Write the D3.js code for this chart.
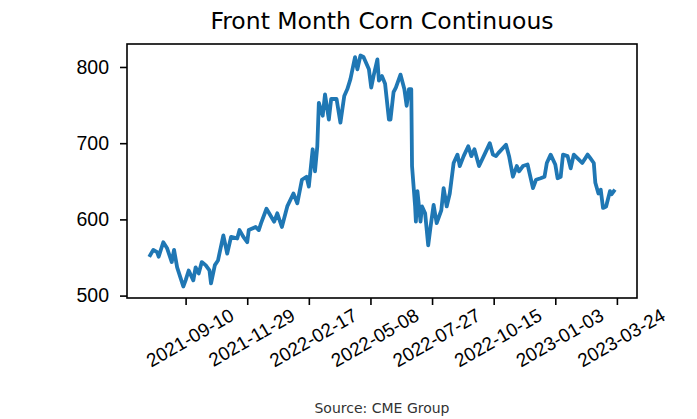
<!DOCTYPE html>
<html>
<head>
<meta charset="utf-8">
<script src="https://cdn.jsdelivr.net/npm/d3@7"></script>
<style>
  body { margin: 0; background: #fff; }
  svg { display: block; font-family: "DejaVu Sans", sans-serif; }
</style>
</head>
<body>
<svg id="chart" width="697" height="419"></svg>
<script>
// front month corn
const dates = [
  "2021-07-26","2021-07-30","2021-08-04","2021-08-06","2021-08-12","2021-08-17","2021-08-23","2021-08-26",
  "2021-08-30","2021-09-07","2021-09-10","2021-09-14","2021-09-20","2021-09-23","2021-09-27","2021-10-01",
  "2021-10-06","2021-10-11","2021-10-13","2021-10-18","2021-10-22","2021-10-29","2021-11-03","2021-11-08",
  "2021-11-16","2021-11-19","2021-11-24","2021-11-29","2021-12-01","2021-12-10","2021-12-14","2021-12-17",
  "2021-12-24","2022-01-03","2022-01-07","2022-01-13","2022-01-20","2022-01-28","2022-02-02","2022-02-08",
  "2022-02-14","2022-02-17","2022-02-22","2022-02-25","2022-02-28","2022-03-02","2022-03-07","2022-03-10",
  "2022-03-15","2022-03-18","2022-03-25","2022-03-30","2022-04-04","2022-04-08","2022-04-12","2022-04-18",
  "2022-04-21","2022-04-25","2022-04-29","2022-05-06","2022-05-09","2022-05-12","2022-05-17","2022-05-19",
  "2022-05-23","2022-05-27","2022-06-01","2022-06-03","2022-06-07","2022-06-10","2022-06-16","2022-06-21",
  "2022-06-24","2022-06-27","2022-06-30","2022-07-01","2022-07-05","2022-07-06","2022-07-08","2022-07-12",
  "2022-07-14","2022-07-18","2022-07-22","2022-07-25","2022-07-29","2022-08-02","2022-08-08","2022-08-11",
  "2022-08-15","2022-08-19","2022-08-24","2022-08-29","2022-09-01","2022-09-06","2022-09-12","2022-09-16",
  "2022-09-20","2022-09-26","2022-10-03","2022-10-10","2022-10-14","2022-10-18","2022-10-21","2022-10-31",
  "2022-11-04","2022-11-09","2022-11-14","2022-11-17","2022-11-22","2022-11-28","2022-12-05","2022-12-09",
  "2022-12-15","2022-12-20","2022-12-23","2022-12-28","2023-01-03","2023-01-06","2023-01-10","2023-01-13",
  "2023-01-19","2023-01-23","2023-01-27","2023-02-03","2023-02-07","2023-02-14","2023-02-17","2023-02-22",
  "2023-02-24","2023-02-28","2023-03-03","2023-03-06","2023-03-10","2023-03-15","2023-03-17","2023-03-20"
]
const prices = [
  553, 560, 557, 551, 570, 562, 544, 560,
  537, 512, 520, 533, 520, 537, 529, 544,
  540, 533, 516, 540, 546, 579, 555, 577,
  575, 586, 577, 570, 586, 590, 586, 595,
  614, 597, 608, 590, 617, 634, 621, 652,
  656, 643, 692, 663, 696, 753, 736, 764,
  731, 758, 758, 727, 762, 771, 784, 813,
  797, 815, 813, 797, 773, 788, 810, 782,
  788, 778, 731, 731, 767, 773, 790, 771,
  749, 771, 771, 670, 617, 597, 637, 597,
  617, 608, 566, 590, 619, 595, 612, 641,
  617, 634, 674, 685, 670, 683, 696, 683,
  692, 670, 685, 700, 685, 683, 687, 698,
  683, 656, 670, 663, 670, 672, 641, 652,
  654, 656, 674, 685, 672, 654, 656, 685,
  683, 667, 685, 678, 674, 685, 681, 674,
  648, 634, 639, 615, 617, 637, 633, 637
]
const tickDates = ["2021-09-10","2021-11-29","2022-02-17","2022-05-08","2022-07-27","2022-10-15","2023-01-03","2023-03-24"]
const yTicks = [500, 600, 700, 800]

const title = "Front Month Corn Continuous"
const source = "Source: CME Group"

const parse = d3.utcParse("%Y-%m-%d")
const fmt = d3.utcFormat("%Y-%m-%d")
const series = dates.map((d, i) => ({ date: parse(d), value: prices[i] }))

const svg = d3.select("#chart")
const margin = { top: 44, right: 60, bottom: 121, left: 127 }
const W = 697, H = 419
const x0 = margin.left, x1 = W - margin.right
const y0 = H - margin.bottom, y1 = margin.top

// matplotlib style 5% padding on both axes
function padded(ext) {
  const p = (ext[1] - ext[0]) * 0.05
  return [ext[0] - p, ext[1] + p]
}
const xExt = d3.extent(series, d => +d.date)
const x = d3.scaleUtc().domain(padded(xExt).map(t => new Date(t))).range([x0, x1])
const y = d3.scaleLinear().domain(padded(d3.extent(prices))).range([y0, y1])

const line = d3.line()
  .x(d => x(d.date))
  .y(d => y(d.value))

svg.append("path")
  .datum(series)
  .attr("fill", "none")
  .attr("stroke", "#1f77b4")
  .attr("stroke-width", 3.8)
  .attr("stroke-linejoin", "round")
  .attr("stroke-linecap", "square")
  .attr("d", line)

// axes
const xAxis = d3.axisBottom(x)
  .tickValues(tickDates.map(parse))
  .tickFormat(fmt)
  .tickSize(7)
  .tickSizeOuter(0)

const gx = svg.append("g")
  .attr("transform", "translate(0," + y0 + ")")
  .call(xAxis)
gx.select(".domain").remove()
gx.selectAll(".tick line").attr("stroke", "#000").attr("stroke-width", 1.6)

const tickTop = 7
gx.selectAll(".tick text")
  .attr("fill", "#000")
  .style("font-size", "19px")
  .attr("y", 0)
  .attr("dy", null)
  .attr("text-anchor", "middle")
  .attr("dominant-baseline", "central")
  .each(function () {
    const w = this.getComputedTextLength()
    const h = 19 * 1.05
    const a = Math.PI / 6
    const bh = w * Math.sin(a) + h * Math.cos(a)
    d3.select(this).attr("transform", "translate(4," + (tickTop + bh / 2) + ") rotate(-30)")
  })

const yAxis = d3.axisLeft(y)
  .tickValues(yTicks)
  .tickSize(7)
  .tickPadding(11)
  .tickSizeOuter(0)

const gy = svg.append("g")
  .attr("transform", "translate(" + x0 + ",0)")
  .call(yAxis)
gy.select(".domain").remove()
gy.selectAll(".tick line").attr("stroke", "#000").attr("stroke-width", 1.6)
gy.selectAll(".tick text")
  .attr("fill", "#000")
  .style("font-size", "19.5px")

// frame
svg.append("rect")
  .attr("x", x0)
  .attr("y", y1)
  .attr("width", x1 - x0)
  .attr("height", y0 - y1)
  .attr("fill", "none")
  .attr("stroke", "#000")
  .attr("stroke-width", 1.6)

svg.append("text")
  .attr("x", (x0 + x1) / 2)
  .attr("y", 29)
  .attr("text-anchor", "middle")
  .style("font-size", "23.5px")
  .attr("fill", "#000")
  .text(title)

svg.append("text")
  .attr("x", (x0 + x1) / 2)
  .attr("y", 413)
  .attr("text-anchor", "middle")
  .style("font-size", "14px")
  .attr("fill", "#333")
  .text(source)
</script>
</body>
</html>
